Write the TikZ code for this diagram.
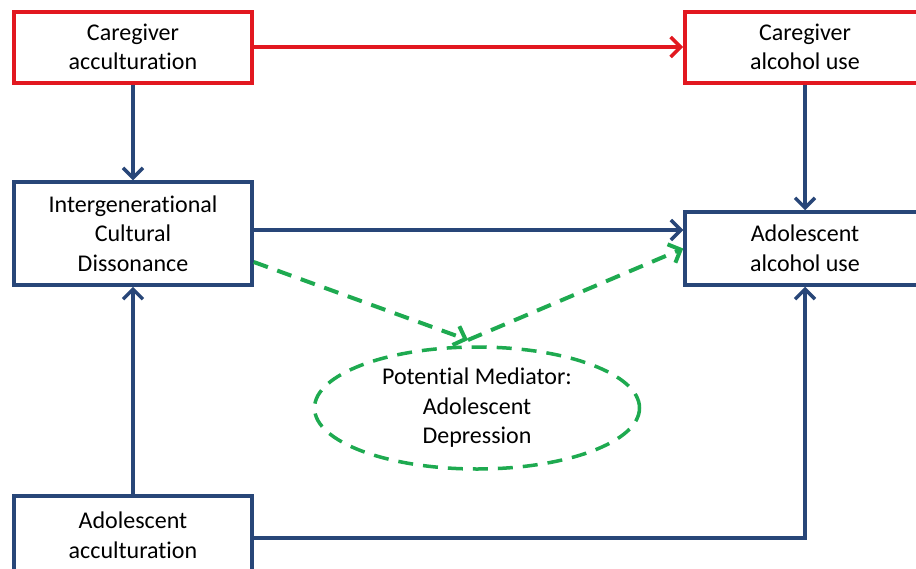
\documentclass[tikz,border=0pt]{standalone}
\usepackage{fontspec}
\setmainfont[Ligatures={NoCommon}]{Carlito}
\usetikzlibrary{arrows.meta,shapes.geometric}
\definecolor{cred}{RGB}{226,24,32}
\definecolor{cblue}{RGB}{40,70,120}
\definecolor{cgreen}{RGB}{30,170,80}
\tikzset{
  box/.style={draw, line width=3.5pt, fill=white, align=center, inner sep=0pt,
    minimum width=238pt, font=\fontsize{24}{29.5}\selectfont},
  redbox/.style={box, draw=cred, line width=4pt},
  bluebox/.style={box, draw=cblue},
  tip/.style={-{Straight Barb[length=10pt,width=20pt,line width=0pt 1]}},
  blueline/.style={draw=cblue, line width=3.5pt},
  redline/.style={draw=cred, line width=3.5pt},
  greenline/.style={draw=cgreen, line width=4pt, dash pattern=on 15pt off 10pt},
  medstyle/.style={ellipse, draw=cgreen, line width=3.5pt, dash pattern=on 15pt off 10pt,
    minimum width=325pt, minimum height=122pt, align=center, inner sep=0pt,
    font=\fontsize{24}{29.5}\selectfont}
}
\begin{document}
\begin{tikzpicture}[x=1pt,y=-1pt]
\useasboundingbox (0,0) rectangle (916,568);
\clip (0,0) rectangle (916,568);
\fill[white] (0,0) rectangle (916,568);
\node[redbox, minimum height=71pt] (ca) at (133,47) {Caregiver\\acculturation};
\node[redbox, minimum height=71pt, minimum width=240pt] (cal) at (805,47) {Caregiver\\alcohol use};
\node[bluebox, minimum height=103pt] (icd) at (133,233.5) {Intergenerational\\Cultural\\Dissonance};
\node[bluebox, minimum height=73pt, minimum width=240pt] (aau) at (805,248.5) {Adolescent\\alcohol use};
\node[bluebox, minimum height=78pt] (aac) at (133,535) {Adolescent\\acculturation};
\node[medstyle] (med) at (477,408) {Potential Mediator:\\Adolescent\\Depression};
\coordinate (m) at (468,340);
\coordinate (aacr) at ([yshift=-3pt]aac.east);
\draw[redline, tip] (ca.east) -- (cal.west);
\draw[blueline, tip] (ca.south) -- (icd.north);
\draw[blueline, tip] (cal.south) -- (aau.north);
\draw[blueline, tip] ([yshift=3.5pt]icd.east) -- ([yshift=3.5pt]aau.west |- icd.east);
\draw[blueline, tip] (aac.north) -- (icd.south);
\draw[blueline, tip] (aacr) -| (aau.south);
\draw[greenline, tip] ([yshift=-28.5pt]icd.east) -- (m);
\draw[greenline, tip] (m) -- (aau.west);
\end{tikzpicture}
\end{document}
